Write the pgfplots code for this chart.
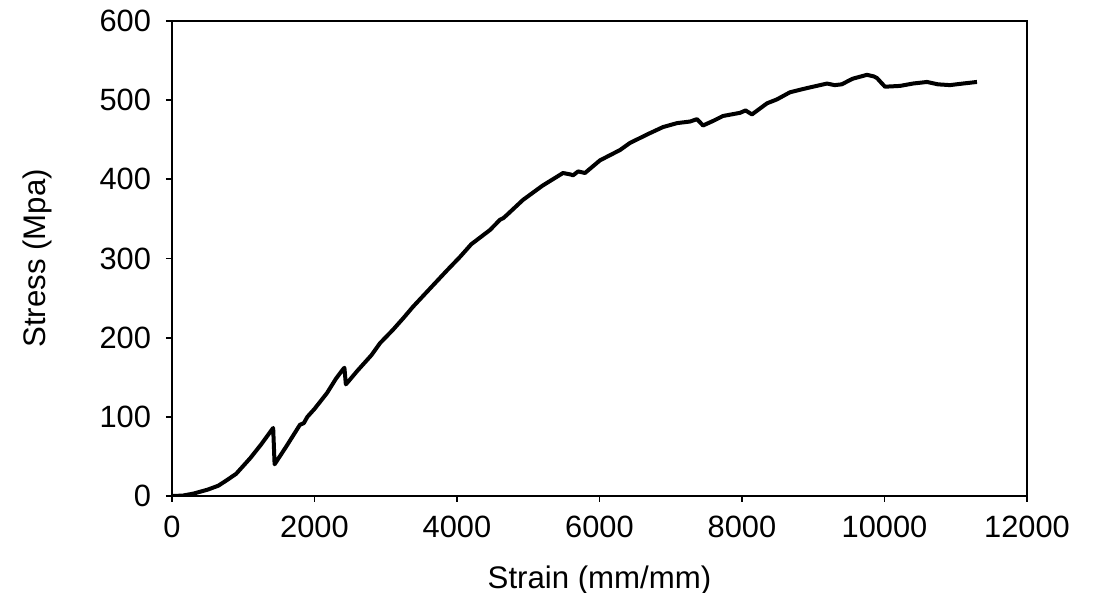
\documentclass[border=0pt]{standalone}
\usepackage{fontspec}
\setmainfont{Liberation Sans}
\usepackage{pgfplots}
\pgfplotsset{compat=1.18}
\begin{document}
\begin{tikzpicture}
\begin{axis}[
  scale only axis,
  width=427.5pt, height=237.5pt,
  xmin=0, xmax=12000, ymin=0, ymax=600,
  xtick={0,2000,...,12000}, ytick={0,100,...,600},
  tick pos=left, tick align=outside,
  major tick length=3pt,
  axis line style={line width=0.9pt},
  every tick/.style={line width=0.9pt, black},
  scaled x ticks=false,
  /pgf/number format/assume math mode=true,
  /pgf/number format/1000 sep={},
  tick label style={font=\fontsize{15.4}{18}\selectfont},
  xticklabel style={yshift=-3.5pt},
  yticklabel style={xshift=-4pt},
  xlabel={Strain (mm/mm)}, ylabel={Stress (Mpa)},
  every axis x label/.style={at={(axis description cs:0.5,-0.177)}, anchor=center, font=\fontsize{15.6}{18}\selectfont},
  every axis y label/.style={at={(axis description cs:-0.157,0.5)}, anchor=center, rotate=90, font=\fontsize{15.6}{18}\selectfont},
]
\addplot[black, line width=2pt, line join=round] coordinates {
(0,0) (150,0.5) (300,3) (500,8) (650,13) (770,20) (900,28) (1000,38) (1100,48) (1250,65) (1420,86)
(1440,40) (1600,62) (1796,90) (1850,92) (1900,100) (2000,110) (2175,130) (2300,148)
(2400,160) (2420,162) (2440,141) (2460,143) (2600,158) (2800,178) (2919,193) (3102,210)
(3250,225) (3382,239) (3600,260) (3860,285) (4042,302) (4200,318) (4463,336) (4604,349)
(4650,351) (4700,355) (4926,374) (5200,392) (5488,408) (5600,406) (5628,405) (5700,410)
(5796,408) (6007,424) (6288,437) (6428,446) (6700,458) (6891,466) (7088,471) (7270,473)
(7369,476) (7453,468) (7600,474) (7733,480) (7972,484) (8050,487) (8140,482) (8351,496)
(8491,501) (8674,510) (8900,515) (9193,521) (9300,519) (9400,520) (9550,527) (9754,532)
(9850,530) (9894,528) (9965,521) (10007,517) (10217,518) (10400,521) (10596,523)
(10750,520) (10919,519) (11100,521) (11298,523)
};
\end{axis}
\pgfresetboundingbox
\path[use as bounding box] (-86pt,-48.5pt) rectangle (460.5pt,248pt);
\end{tikzpicture}
\end{document}
